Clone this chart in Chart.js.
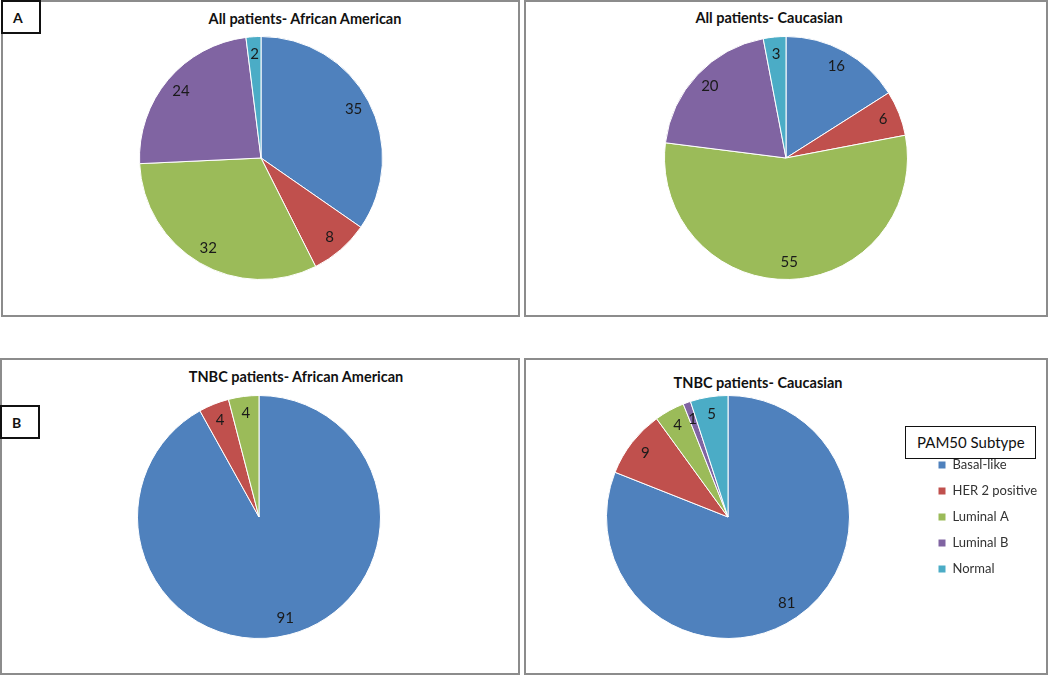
<!DOCTYPE html>
<html>
<head>
<meta charset="utf-8">
<script src="https://cdn.jsdelivr.net/npm/chart.js@4"></script>
<style>
  html, body { margin: 0; padding: 0; background: #fff; overflow: hidden; }
  body { width: 1050px; height: 675px; position: relative; font-family: Lato, "Liberation Sans", sans-serif; }
  .panel { position: absolute; border: 2px solid #8c8c8c; box-sizing: border-box; }
  .tag { position: absolute; border: 2px solid #111; box-sizing: border-box; background: #fff;
         font-weight: bold; font-size: 14px; padding-left: 10px; color: #111; }
  .title { position: absolute; transform: translate(-50%, -50%); white-space: nowrap;
           font-weight: bold; font-size: 14.5px; color: #111; }
  canvas { position: absolute; }
  #legendTitle { position: absolute; left: 905px; top: 426px; width: 131px; height: 33px;
                 border: 1.5px solid #111; box-sizing: border-box; background: #fff;
                 font-size: 15px; color: #111; line-height: 30px; padding-left: 11px; z-index: 2; }
</style>
</head>
<body>
<div class="panel" style="left:1px;top:0px;width:519px;height:317px"></div>
<div class="panel" style="left:524px;top:0px;width:524px;height:317px"></div>
<div class="panel" style="left:0px;top:358px;width:520px;height:317px"></div>
<div class="panel" style="left:524px;top:358px;width:524px;height:317px"></div>

<div class="tag" style="left:1px;top:0px;width:40px;height:34px;line-height:31px">A</div>
<div class="tag" style="left:0px;top:405px;width:40px;height:34px;line-height:31px">B</div>

<div class="title" style="left:305px;top:18px">All patients- African American</div>
<div class="title" style="left:769px;top:17px">All patients- Caucasian</div>
<div class="title" style="left:296px;top:376px">TNBC patients- African American</div>
<div class="title" style="left:758px;top:382px">TNBC patients- Caucasian</div>

<canvas id="pieAllAA" width="244" height="244" style="left:139px;top:36px"></canvas>
<canvas id="pieAllCA" width="244" height="244" style="left:664px;top:36px"></canvas>
<canvas id="pieTnbcAA" width="244" height="244" style="left:137px;top:395px"></canvas>
<canvas id="pieTnbcCA" width="516" height="244" style="left:531px;top:395px"></canvas>

<div id="legendTitle">PAM50 Subtype</div>

<script>
// PAM50 subtypes, clockwise from 12 o'clock
const subtypes = ['Basal-like', 'HER 2 positive', 'Luminal A', 'Luminal B', 'Normal'];
const colors = ['#4F81BD', '#C0504D', '#9BBB59', '#8064A2', '#4BACC6'];

// percentages
const allAfricanAmerican = [35, 8, 32, 24, 2];
const allCaucasian = [16, 6, 55, 20, 3];
const tnbcAfricanAmerican = [91, 4, 4, 0, 0];
const tnbcCaucasian = [81, 9, 4, 1, 5];

const fontFamily = 'Lato, "Liberation Sans", sans-serif';

// value labels inside each slice
const sliceLabels = {
    id: 'sliceLabels',
    afterDatasetsDraw(chart) {
        const ctx = chart.ctx;
        const data = chart.data.datasets[0].data;
        chart.getDatasetMeta(0).data.forEach((arc, i) => {
            if (!data[i]) return;
            const p = arc.getProps(['x', 'y', 'startAngle', 'endAngle', 'outerRadius'], true);
            const mid = (p.startAngle + p.endAngle) / 2;
            const r = p.outerRadius * 0.86;
            ctx.save();
            ctx.font = '15px ' + fontFamily;
            ctx.fillStyle = '#1a1a1a';
            ctx.textAlign = 'center';
            ctx.textBaseline = 'middle';
            ctx.fillText(String(data[i]), p.x + Math.cos(mid) * r, p.y + Math.sin(mid) * r);
            ctx.restore();
        });
    }
};

function makePie(id, values, showLegend) {
    const ctx = document.getElementById(id).getContext('2d');
    return new Chart(ctx, {
        type: 'pie',
        data: {
            labels: subtypes,
            datasets: [{
                data: values,
                backgroundColor: colors,
                borderColor: '#ffffff',
                borderWidth: 1
            }]
        },
        options: {
            responsive: false,
            animation: false,
            devicePixelRatio: 1,
            layout: { padding: 0 },
            plugins: {
                legend: {
                    display: showLegend,
                    position: 'right',
                    align: 'center',
                    maxWidth: 122,
                    labels: {
                        boxWidth: 8,
                        boxHeight: 8,
                        padding: 13,
                        color: '#333',
                        font: { family: fontFamily, size: 13 }
                    }
                },
                title: { display: false },
                tooltip: { enabled: false }
            }
        },
        plugins: [sliceLabels]
    });
}

makePie('pieAllAA', allAfricanAmerican, false);
makePie('pieAllCA', allCaucasian, false);
makePie('pieTnbcAA', tnbcAfricanAmerican, false);
makePie('pieTnbcCA', tnbcCaucasian, true);
</script>
</body>
</html>
